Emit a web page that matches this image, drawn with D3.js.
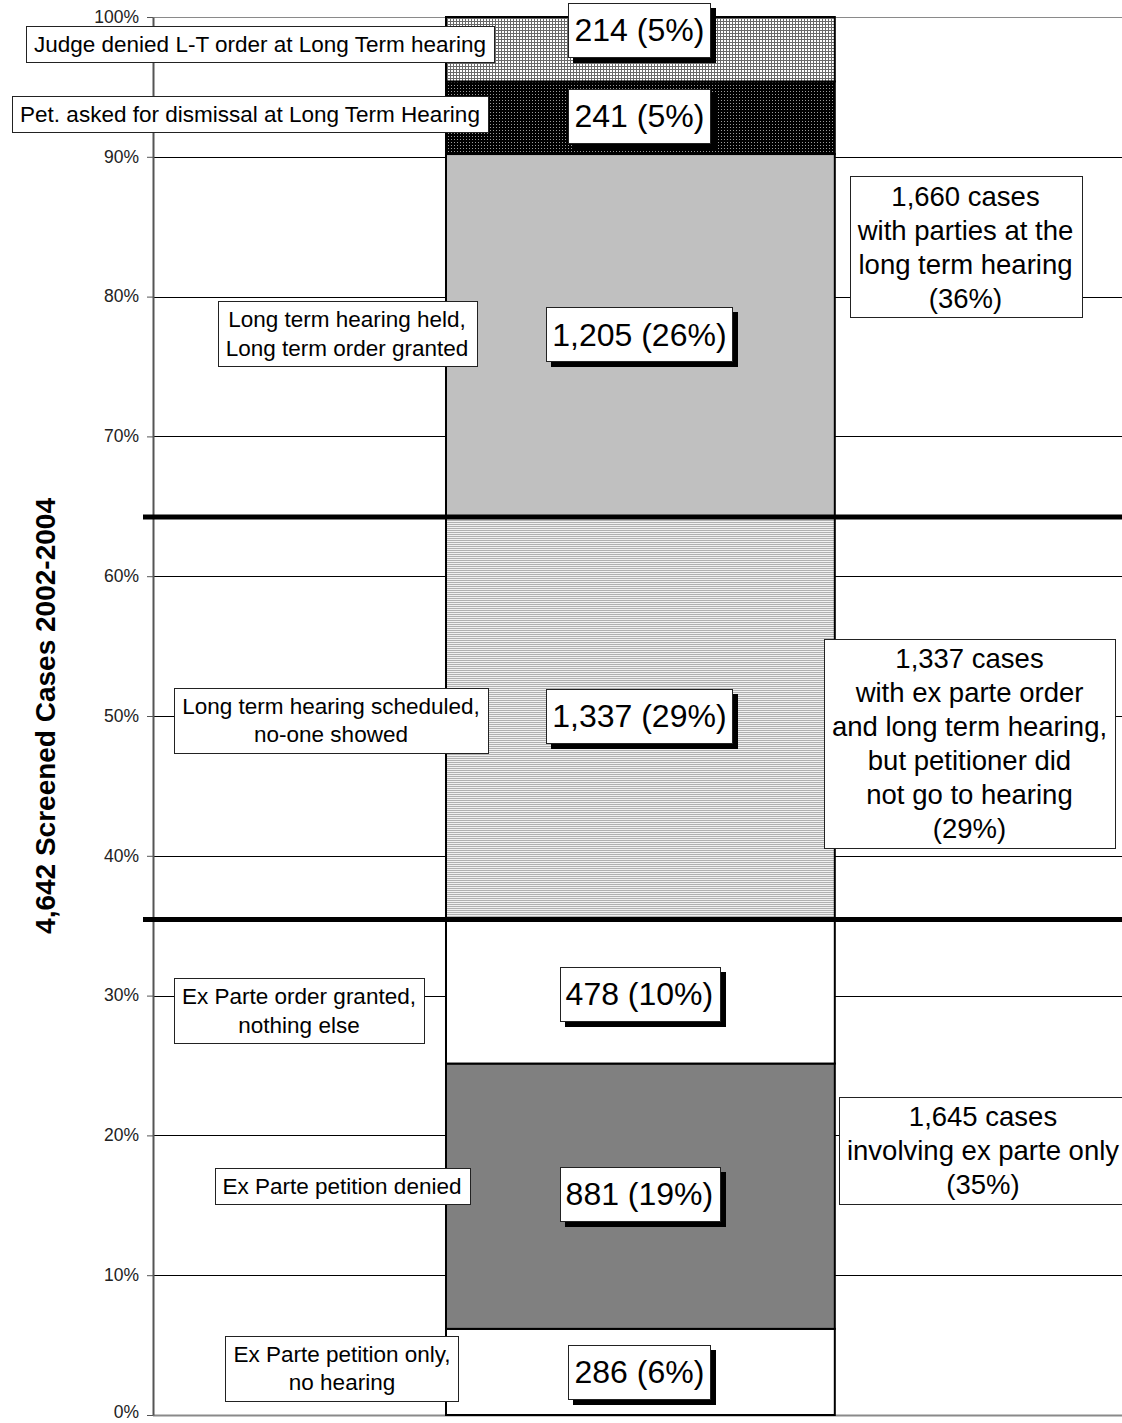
<!DOCTYPE html>
<html><head><meta charset="utf-8">
<script src="https://cdn.jsdelivr.net/npm/d3@7"></script>
<style>
body{margin:0;background:#fff}
svg{display:block;font-family:"Liberation Sans",Arial,sans-serif}
</style>
</head><body>
<svg id="chart" width="1122" height="1423"></svg>
<script>
// ---------------- DATA ----------------
const categories = [
  "Ex Parte petition only, no hearing",
  "Ex Parte petition denied",
  "Ex Parte order granted, nothing else",
  "Long term hearing scheduled, no-one showed",
  "Long term hearing held, Long term order granted",
  "Pet. asked for dismissal at Long Term Hearing",
  "Judge denied L-T order at Long Term hearing"
];
const categoryLabelLines = [
  ["Ex Parte petition only,", "no hearing"],
  ["Ex Parte petition denied"],
  ["Ex Parte order granted,", "nothing else"],
  ["Long term hearing scheduled,", "no-one showed"],
  ["Long term hearing held,", "Long term order granted"],
  ["Pet. asked for dismissal at Long Term Hearing"],
  ["Judge denied L-T order at Long Term hearing"]
];
const values = [286, 881, 478, 1337, 1205, 241, 214];
const valueLabels = ["286 (6%)", "881 (19%)", "478 (10%)", "1,337 (29%)", "1,205 (26%)", "241 (5%)", "214 (5%)"];
const totalCases = 4642;
const groupRanges = [[0, 2], [3, 3], [4, 6]];
const groupLabels = [
  ["1,645 cases", "involving ex parte only", "(35%)"],
  ["1,337 cases", "with ex parte order", "and long term hearing,", "but petitioner did", "not go to hearing", "(29%)"],
  ["1,660 cases", "with parties at the", "long term hearing", "(36%)"]
];
const tickValues = [0, 0.1, 0.2, 0.3, 0.4, 0.5, 0.6, 0.7, 0.8, 0.9, 1.0];
const yTitle = "4,642 Screened Cases 2002-2004";

// ---------------- LAYOUT / STYLE ----------------
const W = 1122, H = 1423;
const plot = {left: 153, right: 1122, top: 17, bottom: 1415};
const fills = ["#ffffff", "#808080", "#ffffff", "url(#hlines)", "#c0c0c0", "url(#darkgrid)", "url(#lightgrid)"];
const leftCx = [342, 342, 299, 331, 347, 250, 260];
const leftDy = [-4, -10, 19, 2, -2, -4, -5];
const valueDy = [0, -2, 2, -2, -1, -2, -19];
const rightCx = [983, 969.5, 965.5];
const rightDy = [-17, 25, -20];

const svg = d3.select("#chart");

// patterns
const defs = svg.append("defs");
const pLight = defs.append("pattern").attr("id", "lightgrid").attr("patternUnits", "userSpaceOnUse")
  .attr("width", 3).attr("height", 3);
pLight.append("rect").attr("width", 3).attr("height", 3).attr("fill", "#fff");
pLight.append("path").attr("d", "M0 0.5H3M0.5 0V3").attr("stroke", "#6a6a6a").attr("stroke-width", 1).attr("shape-rendering", "crispEdges");

const pDark = defs.append("pattern").attr("id", "darkgrid").attr("patternUnits", "userSpaceOnUse")
  .attr("width", 3).attr("height", 3);
pDark.append("rect").attr("width", 3).attr("height", 3).attr("fill", "#000");
pDark.append("rect").attr("x", 1).attr("y", 1).attr("width", 1).attr("height", 1).attr("fill", "#9a9a9a");

const pH = defs.append("pattern").attr("id", "hlines").attr("patternUnits", "userSpaceOnUse")
  .attr("width", 4).attr("height", 2);
pH.append("rect").attr("width", 4).attr("height", 2).attr("fill", "#f0f0f0");
pH.append("rect").attr("width", 4).attr("height", 1).attr("fill", "#b0b0b0");

// scales
const y = d3.scaleLinear().domain([0, 1]).range([plot.bottom, plot.top]);
const x = d3.scaleBand().domain(["cases"]).range([plot.left, plot.right]).paddingInner(0.4273).paddingOuter(0.4273).align(0.505);

// stacked data
const cum = d3.cumsum(values);
const segs = values.map((v, i) => ({
  i, v, y0: (cum[i] - v) / totalCases, y1: cum[i] / totalCases
}));

// gridlines
const gridG = svg.append("g");
gridG.selectAll("line").data(tickValues).join("line")
  .attr("x1", plot.left).attr("x2", plot.right)
  .attr("y1", d => Math.round(y(d)) + 0.5).attr("y2", d => Math.round(y(d)) + 0.5)
  .attr("stroke", d => (d === 0 || d === 1) ? "#8a8a8a" : "#000")
  .attr("stroke-width", d => d === 0 ? 2 : 1);

// bar segments
svg.append("g").selectAll("rect").data(segs).join("rect")
  .attr("x", x("cases")).attr("width", x.bandwidth())
  .attr("y", d => y(d.y1)).attr("height", d => y(d.y0) - y(d.y1))
  .attr("fill", d => fills[d.i])
  .attr("stroke", "#000").attr("stroke-width", 2);

// axis
const axis = d3.axisLeft(y).tickValues(tickValues).tickFormat(d3.format(".0%"))
  .tickSizeInner(6).tickSizeOuter(0).tickPadding(8);
const axG = svg.append("g").attr("transform", `translate(${plot.left},0)`).call(axis);
axG.attr("font-size", 17.5).attr("font-family", '"Liberation Sans",Arial,sans-serif');
axG.select(".domain").attr("stroke", "#555").attr("stroke-width", 2);
axG.selectAll(".tick line").attr("stroke", "#555").attr("stroke-width", 1);
axG.selectAll(".tick text").attr("fill", "#222").attr("dy", "0.3em")
  .attr("y", d => d === 0 ? -3 : 0);

// thick group dividers
const dividers = groupRanges.slice(0, -1).map(r => cum[r[1]] / totalCases);
svg.append("g").selectAll("line").data(dividers).join("line")
  .attr("x1", 143).attr("x2", plot.right)
  .attr("y1", d => y(d)).attr("y2", d => y(d))
  .attr("stroke", "#000").attr("stroke-width", 5);

// y title
svg.append("text")
  .attr("transform", `translate(55,${(plot.top + plot.bottom) / 2}) rotate(-90)`)
  .attr("text-anchor", "middle").attr("font-weight", "bold").attr("font-size", 28)
  .text(yTitle);

// box helper
function drawBox(g, cx, cy, lines, opt) {
  const grp = g.append("g");
  const shadow = opt.shadow ? grp.append("rect").attr("fill", "#000") : null;
  const rect = grp.append("rect").attr("fill", "#fff").attr("stroke", opt.stroke || "#222").attr("stroke-width", 1);
  const n = lines.length;
  const h = n * opt.lineH + 2 * opt.padY;
  const top = cy - h / 2;
  const texts = grp.selectAll("text").data(lines).join("text")
    .attr("x", cx)
    .attr("y", (d, k) => top + opt.padY + opt.lineH * (k + 0.5) + opt.fontSize * 0.35)
    .attr("text-anchor", "middle").attr("font-size", opt.fontSize).attr("fill", "#000")
    .text(d => d);
  let maxW = 0;
  texts.each(function () { maxW = Math.max(maxW, this.getComputedTextLength()); });
  const w = maxW + 2 * opt.padX;
  rect.attr("x", Math.round(cx - w / 2) + 0.5).attr("y", Math.round(top) + 0.5).attr("width", Math.round(w)).attr("height", Math.round(h));
  if (shadow) shadow.attr("x", Math.round(cx - w / 2) + 5).attr("y", Math.round(top) + 5).attr("width", Math.round(w) + 1).attr("height", Math.round(h) + 1);
}

const boxG = svg.append("g");
const barCx = x("cases") + x.bandwidth() / 2 - 1;

// left category labels
segs.forEach(d => {
  const cy = y((d.y0 + d.y1) / 2) + leftDy[d.i];
  drawBox(boxG, leftCx[d.i], cy, categoryLabelLines[d.i], {fontSize: 22.5, lineH: 28.5, padX: 8, padY: 3.75});
});

// value labels
segs.forEach(d => {
  const cy = y((d.y0 + d.y1) / 2) + valueDy[d.i];
  drawBox(boxG, barCx, cy, [valueLabels[d.i]], {fontSize: 32, lineH: 40, padX: 6, padY: 7, shadow: true});
});

// right group labels
groupRanges.forEach((r, gi) => {
  const lo = (cum[r[0]] - values[r[0]]) / totalCases;
  const hi = cum[r[1]] / totalCases;
  const cy = y((lo + hi) / 2) + rightDy[gi];
  drawBox(boxG, rightCx[gi], cy, groupLabels[gi], {fontSize: 27.5, lineH: 34, padX: 8, padY: 2.5});
});
</script>
</body></html>
